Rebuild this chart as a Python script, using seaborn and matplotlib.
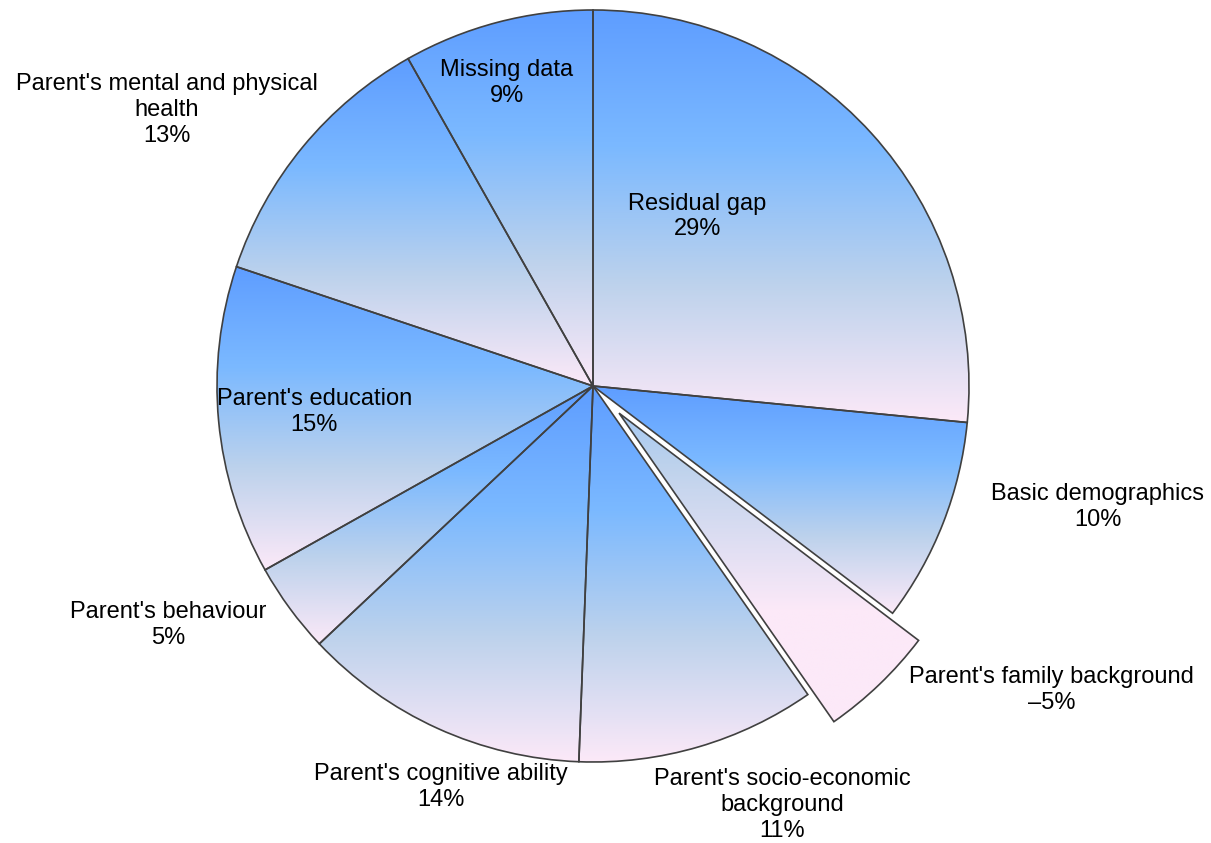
import numpy as np
import matplotlib
matplotlib.use("Agg")
import matplotlib.pyplot as plt
import seaborn as sns

# Data
categories = [
    "Residual gap",
    "Basic demographics",
    "Parent's family background",
    "Parent's socio-economic\nbackground",
    "Parent's cognitive ability",
    "Parent's behaviour",
    "Parent's education",
    "Parent's mental and physical\nhealth",
    "Missing data",
]
# percentages as printed on the chart
printed_pct = [29, 10, -5, 11, 14, 5, 15, 13, 9]
# wedge sizes as measured from the slice angles
wedge_share = [26.6, 8.8, 5.0, 10.3, 12.4, 3.9, 13.3, 11.7, 8.2]

# Layout
label_xy = [
    (0.278, 0.451), (1.343, -0.322), (1.219, -0.809), (0.504, -1.114),
    (-0.404, -1.066), (-1.130, -0.636), (-0.741, -0.069), (-1.133, 0.734),
    (-0.230, 0.806),
]
gradient_colors = ["#5e9dff", "#7bb9ff", "#bdd2ec", "#fce9f8"]

sns.set_theme(style="white")
plt.rcParams["font.family"] = ["Liberation Sans", "DejaVu Sans"]

cmap = sns.blend_palette(gradient_colors, as_cmap=True)

fig = plt.figure(figsize=(12.11, 8.43), dpi=100)
ax = fig.add_axes([0, 0, 1, 1])

explode = [0.1 if v < 0 else 0 for v in printed_pct]
wedges, _ = ax.pie(
    wedge_share,
    startangle=90,
    counterclock=False,
    explode=explode,
    radius=1,
    wedgeprops=dict(edgecolor="#404040", linewidth=1.2, facecolor="none"),
)

# vertical gradient fill inside every wedge
t = np.linspace(0, 1, 256).reshape(-1, 1)
for w, v in zip(wedges, printed_pct):
    bb = w.get_path().get_extents()
    grad = t if v >= 0 else np.clip(0.55 + 0.7 * t, 0, 1)
    im = ax.imshow(grad, cmap=cmap, vmin=0, vmax=1, aspect="auto",
                   extent=(bb.x0, bb.x1, bb.y0, bb.y1), origin="upper",
                   interpolation="bilinear", zorder=w.get_zorder() - 0.1)
    im.set_clip_path(w)

for cat, pct, (x, y) in zip(categories, printed_pct, label_xy):
    sign = "\u2013" if pct < 0 else ""
    ax.text(x, y, f"{cat}\n{sign}{abs(pct)}%", ha="center", va="center",
            fontsize=17, color="black", linespacing=1.22)

ax.set_xlim(-593 / 376, (1211 - 593) / 376)
ax.set_ylim(-(843 - 386) / 376, 386 / 376)
ax.set_aspect("auto")
ax.axis("off")

fig.savefig("out.png", dpi=100)
